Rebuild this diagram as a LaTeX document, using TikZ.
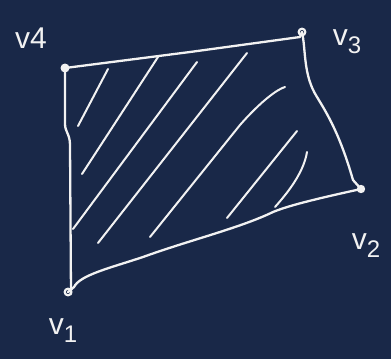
\documentclass[tikz,border=0pt]{standalone}
\usepackage{fontspec}
\setmainfont{Liberation Sans}
\definecolor{bgnavy}{RGB}{25,40,72}
\definecolor{chalk}{RGB}{242,242,242}
\begin{document}
\begin{tikzpicture}[x=1pt,y=-1pt,
  stroke/.style={draw=chalk,line width=2.3pt,line cap=round,line join=round},
  hatch/.style={draw=chalk,line width=2pt,line cap=round},
  lbl/.style={text=chalk,font=\fontsize{30}{30}\selectfont,inner sep=0pt}]
\fill[bgnavy] (0,0) rectangle (391,359);
\useasboundingbox (0,0) rectangle (391,359);
% vertices
\coordinate (v1) at (68,292);
\coordinate (v2) at (361,189);
\coordinate (v3) at (302,32);
\coordinate (v4) at (65,68);
% hatching
\draw[hatch] (108,69) -- (78,126);
\draw[hatch] (158,57) -- (82,174);
\draw[hatch] (197,62) -- (73,229);
\draw[hatch] (247,53) -- (98,243);
\draw[hatch] (285,87) .. controls (278,89) and (262,100) .. (240,125) -- (150,237);
\draw[hatch] (297,131) -- (227,218);
\draw[hatch] (307,152) .. controls (304,170) and (292,188) .. (275,207);
% edges
\draw[stroke] (v4) -- (190,52) -- (300,37) -- (v3);
\draw[stroke] (v3) .. controls (306,50) and (303,75) .. (317,97)
  .. controls (328,115) and (340,135) .. (353,180) -- (v2);
\draw[stroke] (v2) .. controls (320,198) and (290,205) .. (273,212)
  .. controls (240,228) and (190,240) .. (143,257)
  .. controls (110,268) and (80,275) .. (74,287) -- (v1);
\draw[stroke] (v4) -- (65,124) .. controls (65,132) and (70,134) .. (70,145) -- (71,294);
% vertex marks
\fill[chalk] (v4) circle (4.5);
\draw[chalk,line width=2.2pt] (v3) circle (3.3);
\fill[chalk] (v2) circle (4.2);
\draw[chalk,line width=2.2pt] (v1) circle (3.3);
% labels
\node[lbl] (l4) at (31,38) {v\raisebox{0pt}{4}};
\node[lbl] (l3) at (347,42) {v\raisebox{-8pt}{\fontsize{24}{24}\selectfont 3}};
\node[lbl] (l2) at (366,246) {v\raisebox{-8pt}{\fontsize{24}{24}\selectfont 2}};
\node[lbl] (l1) at (63,331) {v\raisebox{-8pt}{\fontsize{24}{24}\selectfont 1}};
\end{tikzpicture}
\end{document}
